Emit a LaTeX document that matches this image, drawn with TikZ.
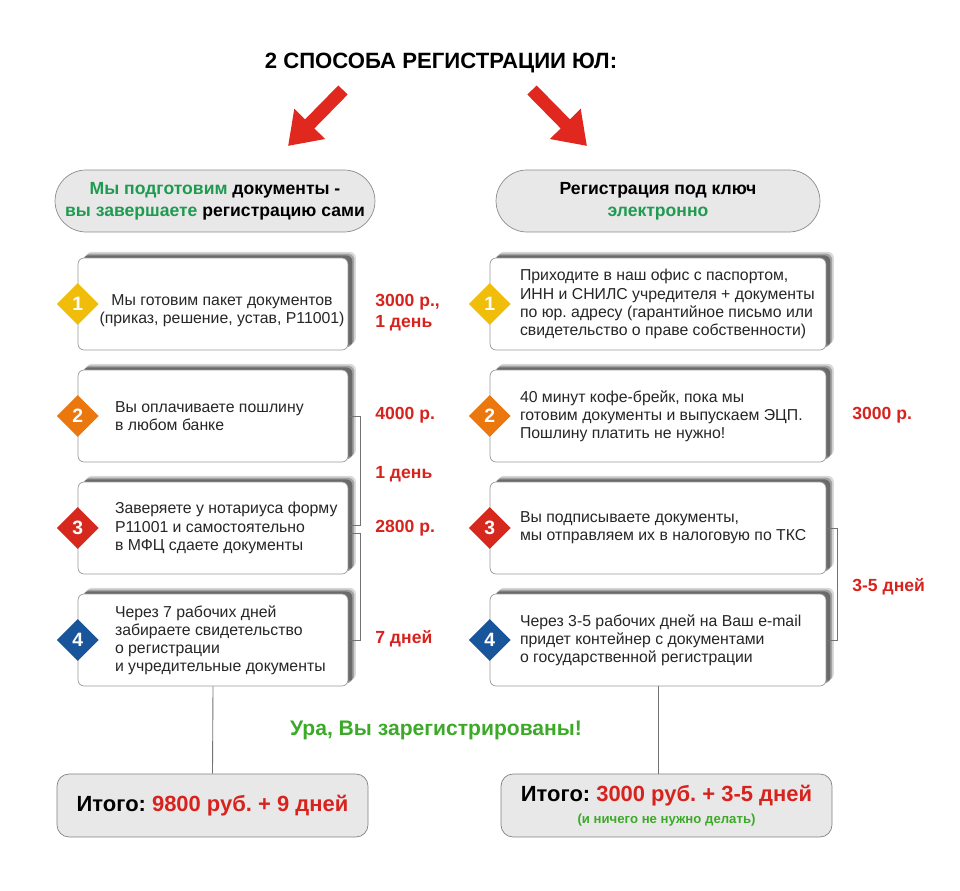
\documentclass[tikz,border=0pt]{standalone}
\usepackage{fontspec}
\setmainfont{Liberation Sans}
\usepackage{tikz}
\usetikzlibrary{arrows.meta, positioning, shapes.geometric, shadows}
\frenchspacing

\definecolor{hgreen}{RGB}{30,155,80}
\definecolor{uragreen}{RGB}{60,170,40}
\definecolor{redtxt}{RGB}{215,35,30}
\definecolor{pillfill}{RGB}{232,232,232}
\definecolor{dyellow}{RGB}{240,190,10}
\definecolor{dorange}{RGB}{235,120,15}
\definecolor{dred}{RGB}{215,40,30}
\definecolor{dblue}{RGB}{25,85,155}
\definecolor{arrred}{RGB}{225,40,30}

\begin{document}
\begin{tikzpicture}[x=0.02cm, y=-0.02cm,
  pill/.style={draw=black!45, fill=pillfill, rounded corners=0.62cm, minimum width=6.4cm,
    minimum height=1.24cm, align=center, font=\bfseries\fontsize{10}{12.5}\selectfont},
  stepbox/.style={draw=black!40, fill=white, rounded corners=0.12cm, minimum width=5.4cm,
    minimum height=1.84cm,
    drop shadow={shadow xshift=4.5pt, shadow yshift=3.5pt, fill=black, opacity=.15},
    drop shadow={shadow xshift=3.5pt, shadow yshift=2.5pt, fill=black, opacity=.25},
    drop shadow={shadow xshift=2.5pt, shadow yshift=1.5pt, fill=black, opacity=.35}},
  badge/.style={diamond, inner sep=0, minimum width=0.84cm, minimum height=0.84cm,
    text=white, font=\bfseries\fontsize{11}{11}\selectfont},
  txt/.style={align=left, inner sep=0, text=black!85, font=\fontsize{9}{10.3}\selectfont},
  price/.style={anchor=west, align=left, inner sep=0, text=redtxt, font=\bfseries\fontsize{10}{12}\selectfont},
  total/.style={draw=black!50, fill=pillfill, rounded corners=0.24cm, minimum height=1.26cm,
    align=center, font=\bfseries\fontsize{12.5}{12.5}\selectfont},
  brk/.style={draw=black!55, line width=0.5pt},
  bigarrow/.style={arrred, line width=7.4pt, -{Triangle[width=0.82cm, length=0.62cm]}}]
  \useasboundingbox (0,0) rectangle (960,891);

  % Title and arrows
  \node[font=\bfseries\fontsize{12.6}{13}\selectfont] (title) at (441,63) {2 СПОСОБА РЕГИСТРАЦИИ ЮЛ:};
  \coordinate (la1) at (343,90);
  \coordinate (la2) at (288,146);
  \coordinate (ra1) at (532,90);
  \coordinate (ra2) at (587,146);
  \draw[bigarrow] (la1) -- (la2);
  \draw[bigarrow] (ra1) -- (ra2);

  % Headers
  \node[pill] (h1) at (215,201) {\textcolor{hgreen}{Мы подготовим} документы -\\
    \textcolor{hgreen}{вы завершаете} регистрацию сами};
  \node[pill, minimum width=6.48cm] (h2) at (658,201) {Регистрация под ключ\\
    \textcolor{hgreen}{электронно}};

  % Left column
  \node[stepbox] (l1) at (213,304) {};
  \node[stepbox] (l2) at (213,416) {};
  \node[stepbox] (l3) at (213,528) {};
  \node[stepbox] (l4) at (213,640) {};
  \node[badge, fill=dyellow] (ld1) at (l1.west) {1};
  \node[badge, fill=dorange] (ld2) at (l2.west) {2};
  \node[badge, fill=dred] (ld3) at (l3.west) {3};
  \node[badge, fill=dblue] (ld4) at (l4.west) {4};
  \node[txt, align=center] (lt1) at ([xshift=0.18cm, yshift=-0.14cm]l1.center)
    {Мы готовим пакет документов\\(приказ, решение, устав, Р11001)};
  \node[txt, anchor=west] (lt2) at ([xshift=0.74cm]l2.west)
    {Вы оплачиваете пошлину\\в любом банке};
  \node[txt, anchor=west] (lt3) at ([xshift=0.74cm]l3.west)
    {Заверяете у нотариуса форму\\Р11001 и самостоятельно\\в МФЦ сдаете документы};
  \node[txt, anchor=west] (lt4) at ([xshift=0.74cm]l4.west)
    {Через 7 рабочих дней\\забираете свидетельство\\о регистрации\\и учредительные документы};

  % Right column
  \node[stepbox, minimum width=6.72cm] (r1) at (658,304) {};
  \node[stepbox, minimum width=6.72cm] (r2) at (658,416) {};
  \node[stepbox, minimum width=6.72cm] (r3) at (658,528) {};
  \node[stepbox, minimum width=6.72cm] (r4) at (658,640) {};
  \node[badge, fill=dyellow] (rd1) at (r1.west) {1};
  \node[badge, fill=dorange] (rd2) at (r2.west) {2};
  \node[badge, fill=dred] (rd3) at (r3.west) {3};
  \node[badge, fill=dblue] (rd4) at (r4.west) {4};
  \node[txt, anchor=west] (rt1) at ([xshift=0.6cm]r1.west)
    {Приходите в наш офис с паспортом,\\ИНН и СНИЛС учредителя + документы\\по юр. адресу (гарантийное письмо или\\свидетельство о праве собственности)};
  \node[txt, anchor=west] (rt2) at ([xshift=0.6cm]r2.west)
    {40 минут кофе-брейк, пока мы\\готовим документы и выпускаем ЭЦП.\\Пошлину платить не нужно!};
  \node[txt, anchor=west] (rt3) at ([xshift=0.6cm]r3.west)
    {Вы подписываете документы,\\мы отправляем их в налоговую по ТКС};
  \node[txt, anchor=west] (rt4) at ([xshift=0.6cm]r4.west)
    {Через 3-5 рабочих дней на Ваш e-mail\\придет контейнер с документами\\о государственной регистрации};

  % Brackets
  \draw[brk] (l2.east) -- ++(0.24cm,0) |- ([yshift=0.06cm]l3.east);
  \draw[brk] ([yshift=-0.1cm]l3.east) -- ++(0.24cm,0) |- (l4.east);
  \draw[brk] (r3.east) -- ++(0.22cm,0) |- (r4.east);

  % Prices
  \node[price] (p1) at (375,313) {3000 р.,\\1 день};
  \node[price] (p2) at (375,415) {4000 р.};
  \node[price] (p3) at (375,474) {1 день};
  \node[price] (p4) at (375,528) {2800 р.};
  \node[price] (p5) at (375,639) {7 дней};
  \node[price] (p6) at (852,415) {3000 р.};
  \node[price] (p7) at (852,587) {3-5 дней};

  % Totals
  \node[font=\bfseries\fontsize{12}{12}\selectfont, text=uragreen] (done) at (436,730) {Ура, Вы зарегистрированы!};
  \node[total, minimum width=6.22cm] (s1) at (212.5,805.5) {Итого: \textcolor{redtxt}{9800 руб. + 9 дней}};
  \node[total, minimum width=6.62cm] (s2) at (666.5,805.5) {Итого: \textcolor{redtxt}{3000 руб. + 3-5 дней}\\
    {\fontsize{7.5}{9}\selectfont\textcolor{uragreen}{(и ничего не нужно делать)}}};
  \draw[brk] (l4.south) -- (s1.north);
  \draw[brk] (r4.south) -- (r4.south |- s2.north);
\end{tikzpicture}
\end{document}
